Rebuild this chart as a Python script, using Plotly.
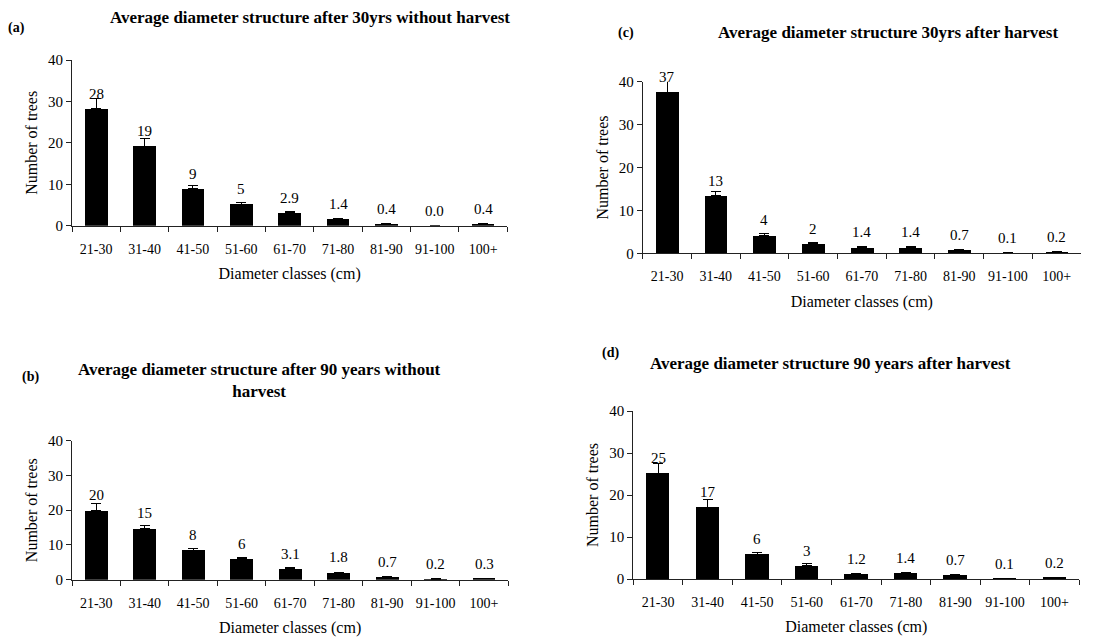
import plotly.graph_objects as go

categories = ["21-30", "31-40", "41-50", "51-60", "61-70", "71-80", "81-90", "91-100", "100+"]

# (a) after 30 yrs without harvest
vals_a = [28.2, 19.2, 8.9, 5.2, 3.1, 1.5, 0.5, 0.0, 0.4]
err_a = [2.4, 1.9, 0.8, 0.5, 0.3, 0.2, 0.1, 0.0, 0.1]
labels_a = ["28", "19", "9", "5", "2.9", "1.4", "0.4", "0.0", "0.4"]

# (b) after 90 years without harvest
vals_b = [20.0, 14.8, 8.5, 6.1, 3.1, 2.1, 0.8, 0.2, 0.3]
err_b = [2.0, 0.8, 0.5, 0.3, 0.3, 0.1, 0.2, 0.1, 0.1]
labels_b = ["20", "15", "8", "6", "3.1", "1.8", "0.7", "0.2", "0.3"]

# (c) 30 yrs after harvest
vals_c = [37.6, 13.4, 4.2, 2.2, 1.4, 1.4, 0.8, 0.1, 0.3]
err_c = [2.8, 1.0, 0.5, 0.3, 0.2, 0.2, 0.1, 0.0, 0.1]
labels_c = ["37", "13", "4", "2", "1.4", "1.4", "0.7", "0.1", "0.2"]

# (d) 90 years after harvest
vals_d = [25.2, 17.1, 5.9, 3.1, 1.2, 1.4, 0.9, 0.1, 0.3]
err_d = [2.2, 1.9, 0.5, 0.5, 0.2, 0.2, 0.1, 0.1, 0.1]
labels_d = ["25", "17", "6", "3", "1.2", "1.4", "0.7", "0.1", "0.2"]

titles = {
    "a": "Average diameter structure after 30yrs without harvest",
    "b": "Average diameter structure after 90 years without<br>harvest",
    "c": "Average diameter structure 30yrs after harvest",
    "d": "Average diameter structure 90 years after harvest",
}

W, H = 1119, 639
FONT = "Liberation Serif, Times New Roman, serif"

# panel geometry in pixels: x0, x1, y(0), y(40)
panels = [
    ("a", vals_a, err_a, labels_a, (72, 507.3, 225.7, 60.0), "", ""),
    ("c", vals_c, err_c, labels_c, (642.7, 1081, 253.3, 81.7), "2", "2"),
    ("b", vals_b, err_b, labels_b, (72, 508.3, 579.7, 440.7), "3", "3"),
    ("d", vals_d, err_d, labels_d, (633.3, 1079.3, 579, 411), "4", "4"),
]

fig = go.Figure()
annotations = []
layout_axes = {}
for key, vals, errs, labs, (x0, x1, yb, yt), xs, ys in panels:
    xref = "x" + xs
    yref = "y" + ys
    fig.add_trace(go.Bar(
        x=categories, y=vals, width=0.47,
        marker=dict(color="black", line=dict(width=0)),
        error_y=dict(type="data", symmetric=False, array=errs,
                     arrayminus=[0] * len(errs), color="black",
                     thickness=1, width=5),
        xaxis=xref, yaxis=yref, showlegend=False, hoverinfo="skip",
    ))
    for c, v, lab in zip(categories, vals, labs):
        annotations.append(dict(x=c, y=v, xref=xref, yref=yref, text=lab,
                                showarrow=False, yshift=15,
                                font=dict(family=FONT, size=15, color="black")))
    xa = "xaxis" + xs
    ya = "yaxis" + ys
    layout_axes[xa] = dict(
        domain=[x0 / W, x1 / W], anchor=yref, type="category",
        range=[-0.5, 8.5], showline=True, linecolor="#222", linewidth=1,
        ticks="outside", tickson="boundaries", ticklen=5, tickcolor="#222",
        showgrid=False, zeroline=False, automargin=False, tickangle=0,
        ticklabelstandoff=10,
        tickfont=dict(family=FONT, size=14, color="black"),
        title=dict(text="Diameter classes (cm)", standoff=12,
                   font=dict(family=FONT, size=16, color="black")),
    )
    layout_axes[ya] = dict(
        domain=[1 - yb / H, 1 - yt / H], anchor=xref, range=[0, 40],
        tickvals=[0, 10, 20, 30, 40], showline=True, linecolor="#222",
        linewidth=1, ticks="outside", ticklen=5, tickcolor="#222",
        showgrid=False, zeroline=False, automargin=False,
        tickfont=dict(family=FONT, size=15, color="black"),
        title=dict(text="Number of trees", standoff=6,
                   font=dict(family=FONT, size=16, color="black")),
    )

# titles and panel letters (paper coordinates from pixels)
def P(x, y, text, size, anchor="center"):
    return dict(x=x / W, y=1 - y / H, xref="paper", yref="paper", text=text,
                showarrow=False, xanchor=anchor, yanchor="middle",
                font=dict(family=FONT, size=size, color="black"))

annotations += [
    P(310, 17, "<b>" + titles["a"] + "</b>", 17),
    P(16, 28, "<b>(a)</b>", 14),
    P(888, 33, "<b>" + titles["c"] + "</b>", 17),
    P(626, 33, "<b>(c)</b>", 14),
    P(259, 380, "<b>" + titles["b"] + "</b>", 17),
    P(30, 377, "<b>(b)</b>", 14),
    P(830, 363, "<b>" + titles["d"] + "</b>", 17),
    P(610, 353, "<b>(d)</b>", 14),
]

fig.update_layout(
    width=W, height=H, margin=dict(l=0, r=0, t=0, b=0, autoexpand=False),
    paper_bgcolor="white", plot_bgcolor="white", bargap=0,
    annotations=annotations, **layout_axes,
)

fig.write_html(
    "out.html",
    config={"displayModeBar": False},
    post_script="document.body.style.margin='0';document.body.style.overflow='hidden';",
)
